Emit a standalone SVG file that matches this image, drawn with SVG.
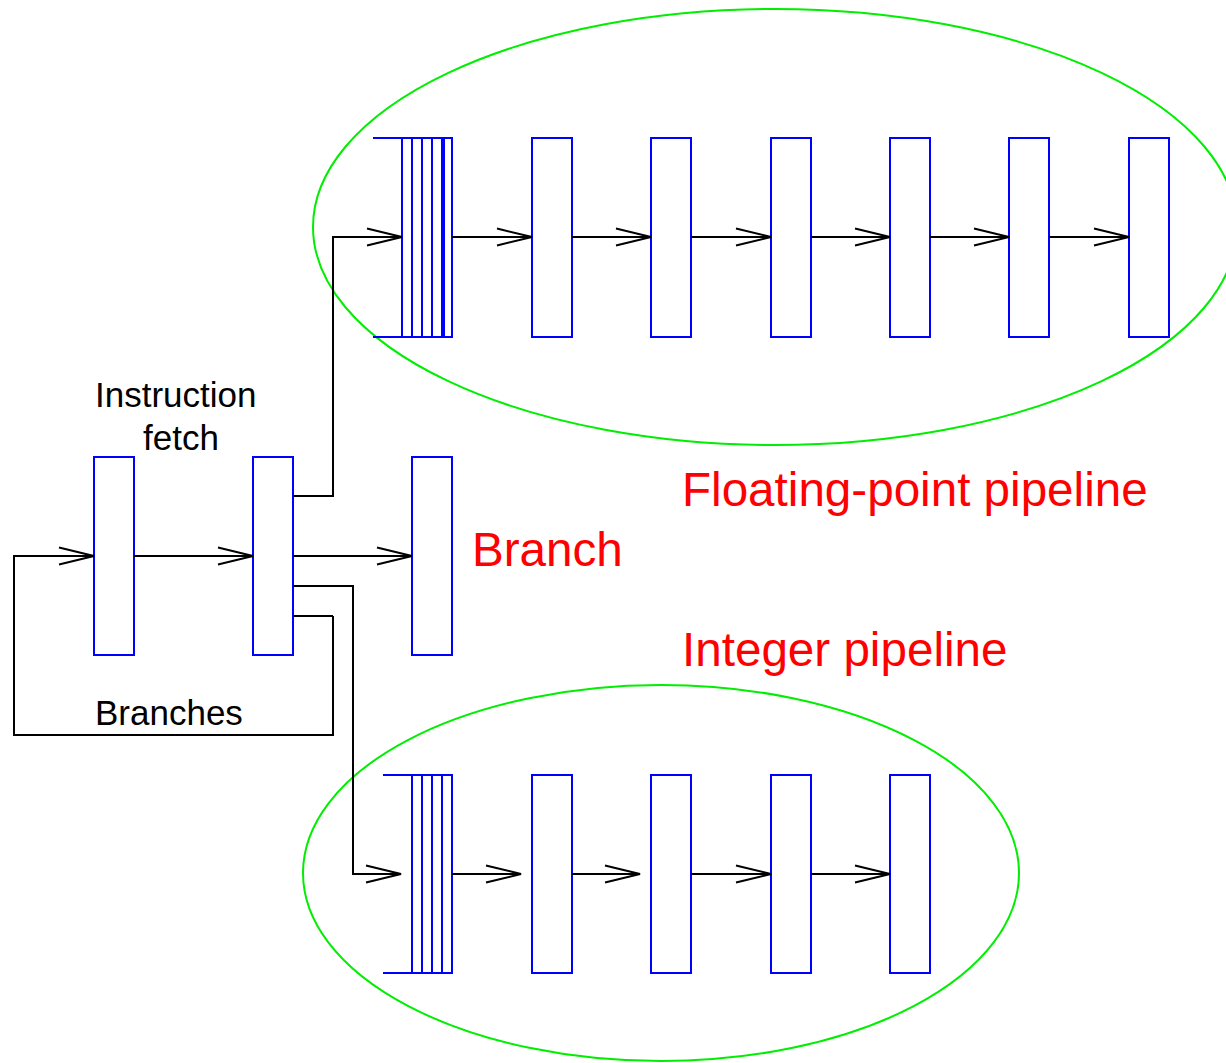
<svg xmlns="http://www.w3.org/2000/svg" width="1226" height="1063" viewBox="0 0 1226 1063">
<style>
.st{fill:none;stroke:#0000ff;stroke-width:2}
.cn{fill:none;stroke:#000;stroke-width:2}
.el{fill:none;stroke:#00ee00;stroke-width:2}
.lb{font-family:"Liberation Sans",Arial,sans-serif;font-size:35px;fill:#000}
.rl{font-family:"Liberation Sans",Arial,sans-serif;font-size:47.6px;fill:#ff0000}
</style>
<defs>
<marker id="ah" markerUnits="userSpaceOnUse" markerWidth="40" markerHeight="20" viewBox="-36 -10 40 20" refX="0" refY="0" orient="auto" overflow="visible">
<path d="M-35,-8.5 L0,0 L-35,8.5" fill="none" stroke="#000" stroke-width="2"/>
</marker>
</defs>
<rect width="1226" height="1063" fill="#fff"/>
<g id="fp-ellipse"><ellipse class="el" cx="775" cy="227" rx="462" ry="218"/></g>
<g id="int-ellipse"><ellipse class="el" cx="661" cy="873" rx="358" ry="188"/></g>
<g id="fetch1"><rect class="st" x="94" y="457" width="40" height="198"/></g>
<g id="fetch2"><rect class="st" x="253" y="457" width="40" height="198"/></g>
<g id="branch-stage"><rect class="st" x="412" y="457" width="40" height="198"/></g>
<g id="fp-queue">
<path class="st" d="M373,138 H452 V337 H373 M402,138 V337 M412,138 V337 M422,138 V337 M432,138 V337 M442,138 V337 M444,138 V337"/>
</g>
<g id="fp1"><rect class="st" x="532" y="138" width="40" height="199"/></g>
<g id="fp2"><rect class="st" x="651" y="138" width="40" height="199"/></g>
<g id="fp3"><rect class="st" x="771" y="138" width="40" height="199"/></g>
<g id="fp4"><rect class="st" x="890" y="138" width="40" height="199"/></g>
<g id="fp5"><rect class="st" x="1009" y="138" width="40" height="199"/></g>
<g id="fp6"><rect class="st" x="1129" y="138" width="40" height="199"/></g>
<g id="int-queue">
<path class="st" d="M383,775 H452 V973 H383 M412,775 V973 M422,775 V973 M432,775 V973 M442,775 V973"/>
</g>
<g id="int1"><rect class="st" x="532" y="775" width="40" height="198"/></g>
<g id="int2"><rect class="st" x="651" y="775" width="40" height="198"/></g>
<g id="int3"><rect class="st" x="771" y="775" width="40" height="198"/></g>
<g id="int4"><rect class="st" x="890" y="775" width="40" height="198"/></g>
<g id="connectors">
<path class="cn" d="M333,616 H293 M333,616 V735 H14 V556 H94" marker-end="url(#ah)"/>
<path class="cn" d="M134,556 H253" marker-end="url(#ah)"/>
<path class="cn" d="M293,556 H412" marker-end="url(#ah)"/>
<path class="cn" d="M293,496 H333 V237 H402" marker-end="url(#ah)"/>
<path class="cn" d="M293,586 H353 V874 H401" marker-end="url(#ah)"/>
<path class="cn" d="M452,237 H532" marker-end="url(#ah)"/>
<path class="cn" d="M572,237 H651" marker-end="url(#ah)"/>
<path class="cn" d="M691,237 H771" marker-end="url(#ah)"/>
<path class="cn" d="M811,237 H890" marker-end="url(#ah)"/>
<path class="cn" d="M930,237 H1009" marker-end="url(#ah)"/>
<path class="cn" d="M1049,237 H1129" marker-end="url(#ah)"/>
<path class="cn" d="M452,874 H521" marker-end="url(#ah)"/>
<path class="cn" d="M572,874 H640" marker-end="url(#ah)"/>
<path class="cn" d="M691,874 H771" marker-end="url(#ah)"/>
<path class="cn" d="M811,874 H890" marker-end="url(#ah)"/>
</g>
<g id="labels">
<text class="lb" x="95" y="407">Instruction</text>
<text class="lb" x="143" y="450">fetch</text>
<text class="lb" x="95" y="725">Branches</text>
<text class="rl" x="682" y="506">Floating-point pipeline</text>
<text class="rl" x="472" y="566">Branch</text>
<text class="rl" x="682" y="666">Integer pipeline</text>
</g>
</svg>
